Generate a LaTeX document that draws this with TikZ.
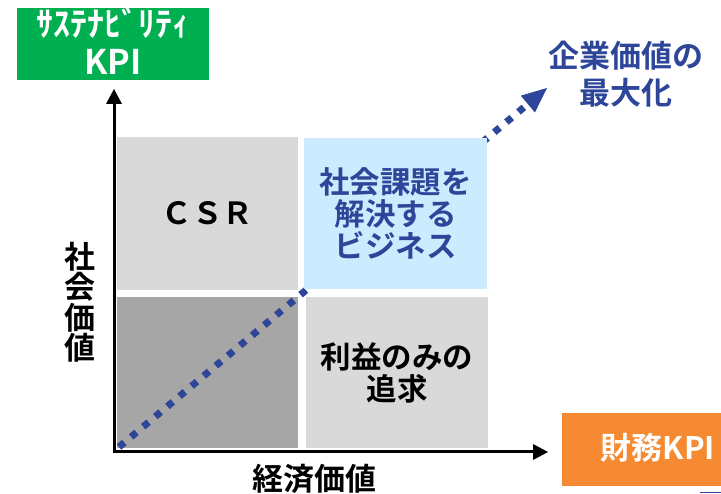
\documentclass[tikz,border=0pt]{standalone}
\usepackage{fontspec}
\setmainfont{Noto Sans CJK JP}[BoldFont={Noto Sans CJK JP Bold}]
\usetikzlibrary{arrows.meta}
\definecolor{kgreen}{HTML}{00B050}
\definecolor{korange}{HTML}{F58A32}
\definecolor{kblue}{HTML}{2E4699}
\definecolor{klblue}{HTML}{CCEBFF}
\definecolor{kgray}{HTML}{D9D9D9}
\definecolor{kdgray}{HTML}{A6A6A6}
\tikzset{
  quad/.style={draw=none, inner sep=0pt, align=center, font=\fontsize{30.5}{32}\selectfont\bfseries},
  kpibox/.style={draw=none, inner sep=0pt, align=center, text=white},
  lbl/.style={inner sep=0pt, align=center, font=\fontsize{31}{32}\selectfont\bfseries},
  axisline/.style={line width=3pt, -{Triangle[width=16pt,length=15pt,line width=0pt]}},
  dotline/.style={kblue, line width=7pt, dash pattern=on 7pt off 8.8pt, -{Triangle[width=22pt,length=25pt,line width=0pt]}}
}
\begin{document}
\begin{tikzpicture}[x=1pt,y=-1pt]
\useasboundingbox (0,0) rectangle (721,494);
% KPI boxes
\node[kpibox, fill=kgreen, minimum width=192pt, minimum height=72pt] (skpi) at (113,44.5) {};
\node[kpibox, font=\fontsize{34}{38}\selectfont\bfseries] (skpitext) at (113,40.5) {ｻｽﾃﾅﾋﾞﾘﾃｨ\\KPI};
\node[kpibox, fill=korange, minimum width=159pt, minimum height=73pt] (fkpi) at (641.5,449.5) {};
\node[kpibox, font=\fontsize{31}{32}\selectfont\bfseries] (fkpitext) at (658,448) {財務KPI};
% quadrants
\node[quad, fill=kgray, minimum width=181pt, minimum height=153pt] (csr) at (207.5,213.5) {ＣＳＲ};
\node[quad, fill=kdgray, minimum width=181pt, minimum height=151pt] (low) at (207.5,372.5) {};
\node[quad, fill=kgray, minimum width=182pt, minimum height=151pt] (profit) at (397,372.5) {利益のみの\\追求};
% dotted diagonal
\coordinate (dstart) at (119,447);
\coordinate (dtip) at (547,88);
\draw[dotline] (dstart) -- (dtip);
\node[quad, fill=klblue, text=kblue, minimum width=183pt, minimum height=151pt] (biz) at (395.5,213.5) {社会課題を\\解決する\\ビジネス};
% axes
\coordinate (origin) at (114,452);
\coordinate (ytip) at (114,89);
\coordinate (xtip) at (548,452);
\draw[axisline] ([yshift=1.5pt]origin) -- (ytip);
\draw[axisline] ([xshift=-1.5pt]origin) -- (xtip);
% labels
\node[lbl, font=\fontsize{31}{30.5}\selectfont\bfseries] (yl) at (80,302) {社\\会\\価\\値};
\node[lbl] (xl) at (314,479) {経済価値};
\node[lbl, text=kblue, font=\fontsize{31}{37}\selectfont\bfseries] (goal) at (626,74) {企業価値の\\最大化};
% small mark bottom right
\coordinate (m1) at (700,492.5);
\coordinate (m2) at (721,492.5);
\draw[kblue, line width=1pt] (m1) -- (m2);
\end{tikzpicture}
\end{document}
